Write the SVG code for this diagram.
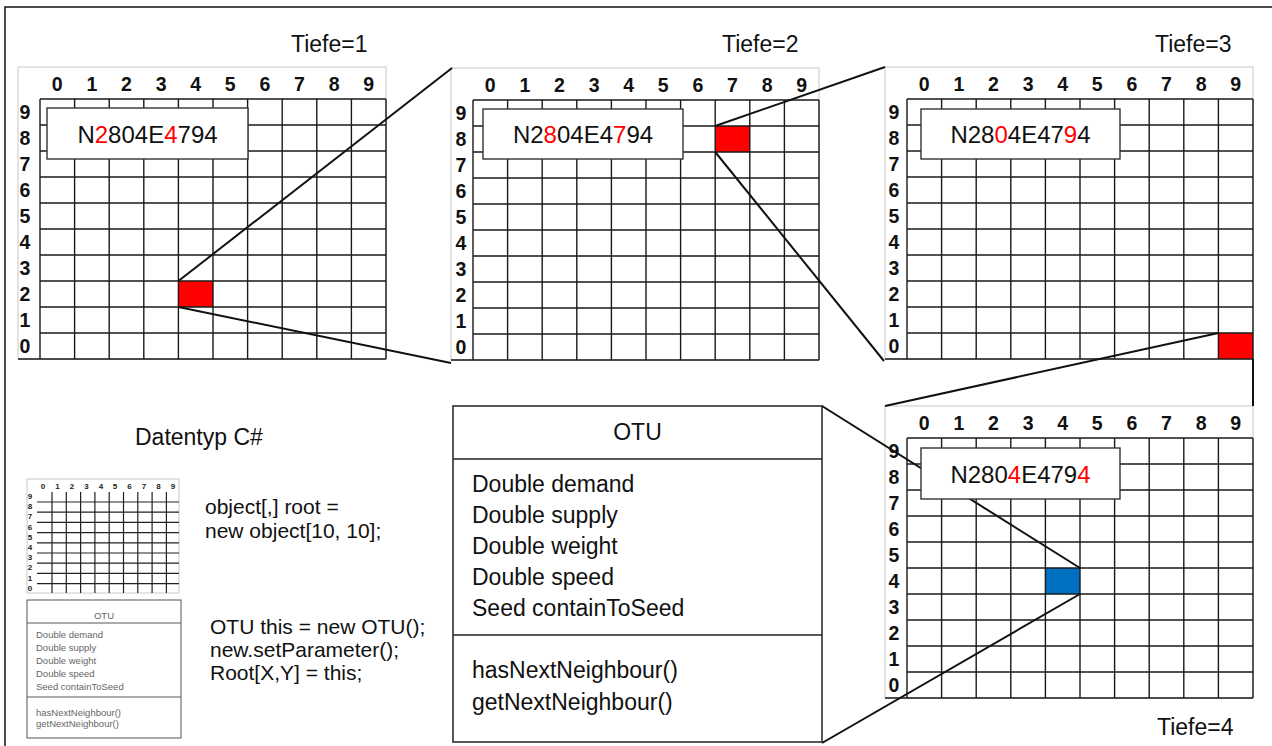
<svg xmlns="http://www.w3.org/2000/svg" xmlns:xlink="http://www.w3.org/1999/xlink" width="1272" height="746" viewBox="0 0 1272 746">
<style>
.frame{fill:#fff;stroke:#c8c8c8;stroke-width:1}
.gl{fill:none;stroke:#1a1a1a;stroke-width:1.4}
.lbl{font-family:"Liberation Sans",Arial,sans-serif;font-weight:bold;font-size:19.5px;fill:#111;text-anchor:middle}
.box{fill:#fff;stroke:#333;stroke-width:1.4}
.code{font-family:"Liberation Sans",Arial,sans-serif;font-size:24px;fill:#111;text-anchor:middle}
.r{fill:#ff0000}
.t{font-family:"Liberation Sans",Arial,sans-serif;font-size:23px;fill:#111}
.s{font-family:"Liberation Sans",Arial,sans-serif;font-size:21px;fill:#111}
.con{fill:none;stroke:#111;stroke-width:2}
.sm{font-family:"Liberation Sans",Arial,sans-serif;font-size:9.5px;fill:#666}
.smb{font-family:"Liberation Sans",Arial,sans-serif;font-size:8px;font-weight:bold;fill:#222;text-anchor:middle}
</style>
<defs>
<path id="gridlines" class="gl" d="M0 0V260M34.6 0V260M69.2 0V260M103.8 0V260M138.4 0V260M173 0V260M207.6 0V260M242.2 0V260M276.8 0V260M311.4 0V260M346 0V260M0 0H346M0 26H346M0 52H346M0 78H346M0 104H346M0 130H346M0 156H346M0 182H346M0 208H346M0 234H346M-22 260H346"/>
</defs>
<rect width="1272" height="746" fill="#fff"/>
<path d="M5 746V7H1272" fill="none" stroke="#111" stroke-width="1.5"/>

<g id="titles" class="t">
<text x="291" y="52">Tiefe=1</text>
<text x="722" y="52">Tiefe=2</text>
<text x="1155" y="52">Tiefe=3</text>
<text x="1157" y="735">Tiefe=4</text>
<text x="135" y="445">Datentyp C#</text>
</g>

<g id="grid1" transform="translate(40,99)">
<rect class="frame" x="-22" y="-32" width="368" height="292"/>
<rect class="r" x="138.4" y="182" width="34.6" height="26"/>
<use xlink:href="#gridlines"/>
<text class="lbl" x="17.3 51.9 86.5 121.1 155.7 190.3 224.9 259.5 294.1 328.7" y="-8">0123456789</text>
<text class="lbl" x="-15 -15 -15 -15 -15 -15 -15 -15 -15 -15" y="20 46 72 98 124 150 176 202 228 254">9876543210</text>
</g>

<g id="grid2" transform="translate(473,100)">
<rect class="frame" x="-22" y="-32" width="368" height="292"/>
<rect class="r" x="242.2" y="26" width="34.6" height="26"/>
<use xlink:href="#gridlines"/>
<text class="lbl" x="17.3 51.9 86.5 121.1 155.7 190.3 224.9 259.5 294.1 328.7" y="-8">0123456789</text>
<text class="lbl" x="-12 -12 -12 -12 -12 -12 -12 -12 -12 -12" y="20 46 72 98 124 150 176 202 228 254">9876543210</text>
</g>

<g id="grid3" transform="translate(907,99)">
<rect class="frame" x="-22" y="-32" width="368" height="292"/>
<rect class="r" x="311.4" y="234" width="34.6" height="26"/>
<use xlink:href="#gridlines"/>
<text class="lbl" x="17.3 51.9 86.5 121.1 155.7 190.3 224.9 259.5 294.1 328.7" y="-8">0123456789</text>
<text class="lbl" x="-13 -13 -13 -13 -13 -13 -13 -13 -13 -13" y="20 46 72 98 124 150 176 202 228 254">9876543210</text>
</g>

<g id="grid4" transform="translate(907,438)">
<rect class="frame" x="-22" y="-32" width="368" height="292"/>
<rect x="138.4" y="130" width="34.6" height="26" fill="#0070c0"/>
<use xlink:href="#gridlines"/>
<text class="lbl" x="17.3 51.9 86.5 121.1 155.7 190.3 224.9 259.5 294.1 328.7" y="-8">0123456789</text>
<text class="lbl" x="-13 -13 -13 -13 -13 -13 -13 -13 -13 -13" y="20 46 72 98 124 150 176 202 228 254">9876543210</text>
</g>

<g id="connectors" class="con">
<path d="M178.4 281L452 68"/>
<path d="M178.4 307L451 363"/>
<path d="M715.2 126L885 67"/>
<path d="M715.2 152L884 361"/>
<path d="M1218.4 333L885 406"/>
<path d="M1253 359V406"/>
<path d="M822 406L1080 568"/>
<path d="M1080 594L822 743"/>
</g>

<g id="code1">
<rect class="box" x="47" y="108" width="201" height="51"/>
<text class="code" x="147.5" y="142.5">N<tspan class="r">2</tspan>804E<tspan class="r">4</tspan>794</text>
</g>
<g id="code2">
<rect class="box" x="483" y="109" width="200" height="50"/>
<text class="code" x="583" y="143">N2<tspan class="r">8</tspan>04E4<tspan class="r">7</tspan>94</text>
</g>
<g id="code3">
<rect class="box" x="921" y="109" width="199" height="50"/>
<text class="code" x="1020.5" y="143">N28<tspan class="r">0</tspan>4E47<tspan class="r">9</tspan>4</text>
</g>
<g id="code4">
<rect class="box" x="921" y="448" width="199" height="51"/>
<text class="code" x="1020.5" y="482.5">N280<tspan class="r">4</tspan>E479<tspan class="r">4</tspan></text>
</g>

<g id="otu">
<rect x="453" y="406" width="369" height="336" fill="#fff" stroke="#222" stroke-width="1.5"/>
<path d="M453 459H822M453 635H822" stroke="#222" stroke-width="1.5"/>
<text class="t" x="637.5" y="440" text-anchor="middle">OTU</text>
<text class="t" x="472" y="492">Double demand</text>
<text class="t" x="472" y="523">Double supply</text>
<text class="t" x="472" y="554">Double weight</text>
<text class="t" x="472" y="585">Double speed</text>
<text class="t" x="472" y="616">Seed containToSeed</text>
<text class="t" x="472" y="678">hasNextNeighbour()</text>
<text class="t" x="472" y="710">getNextNeighbour()</text>
</g>

<g id="smallgrid">
<rect class="frame" x="27" y="479" width="152" height="114"/>
<path d="M52 492V593M66.3 492V593M80.6 492V593M94.9 492V593M109.2 492V593M123.5 492V593M137.8 492V593M152.1 492V593M166.4 492V593M37 502H179M37 512.2H179M37 522.4H179M37 532.6H179M37 542.8H179M37 553H179M37 563.2H179M37 573.4H179M37 583.6H179" fill="none" stroke="#222" stroke-width="1.2"/>
<text class="smb" x="43 57.5 72 86.5 101 115 129.5 144 158.5 173" y="489">0123456789</text>
<text class="smb" x="30 30 30 30 30 30 30 30 30 30" y="499 509.2 519.4 529.6 539.8 550 560.2 570.4 580.6 590.8">9876543210</text>
</g>

<g id="smallotu">
<rect x="27" y="600" width="154" height="138" fill="#fff" stroke="#555" stroke-width="1"/>
<path d="M27 623H181M27 697H181" stroke="#555" stroke-width="1"/>
<text class="sm" x="104" y="619" text-anchor="middle">OTU</text>
<text class="sm" x="36" y="637.5">Double demand</text>
<text class="sm" x="36" y="650.5">Double supply</text>
<text class="sm" x="36" y="663.5">Double weight</text>
<text class="sm" x="36" y="676.5">Double speed</text>
<text class="sm" x="36" y="689.5">Seed containToSeed</text>
<text class="sm" x="36" y="715.5">hasNextNeighbour()</text>
<text class="sm" x="36" y="726.5">getNextNeighbour()</text>
</g>

<g id="codetext" class="s">
<text x="205" y="514">object[,] root =</text>
<text x="205" y="538">new object[10, 10];</text>
<text x="210" y="634">OTU this = new OTU();</text>
<text x="210" y="657">new.setParameter();</text>
<text x="210" y="680">Root[X,Y] = this;</text>
</g>
</svg>
